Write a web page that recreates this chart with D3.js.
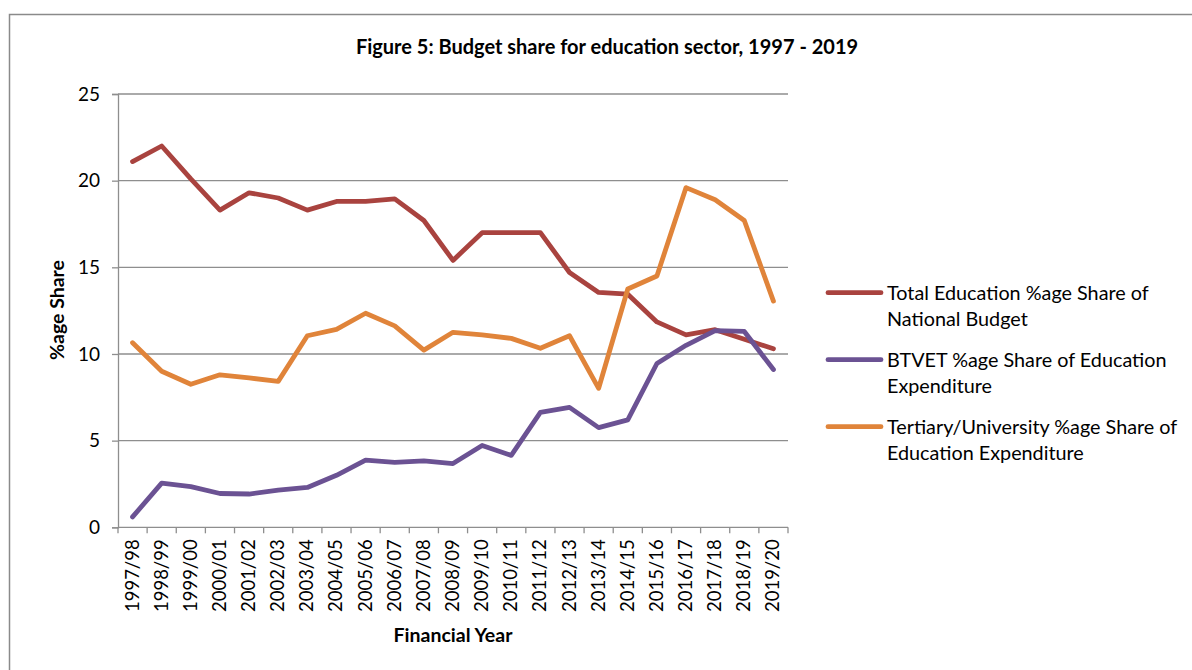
<!DOCTYPE html>
<html>
<head>
<meta charset="utf-8">
<script src="https://cdn.jsdelivr.net/npm/d3@7/dist/d3.min.js"></script>
<style>
  html, body { margin: 0; padding: 0; background: #fff; }
  svg { display: block; font-family: Lato, "Open Sans", sans-serif; }
</style>
</head>
<body>
<svg id="chart" width="1192" height="670"></svg>
<script>
// Financial years on the category axis
const years = ["1997/98","1998/99","1999/00","2000/01","2001/02","2002/03","2003/04","2004/05",
  "2005/06","2006/07","2007/08","2008/09","2009/10","2010/11","2011/12","2012/13","2013/14",
  "2014/15","2015/16","2016/17","2017/18","2018/19","2019/20"];

// Series values (% share)
const totalEducation = [21.1, 22.0, 20.1, 18.3, 19.3, 19.0, 18.3, 18.8, 18.8, 18.95, 17.7, 15.4,
  17.0, 17.0, 17.0, 14.7, 13.55, 13.45, 11.85, 11.1, 11.4, 10.85, 10.3];
const btvet = [0.6, 2.55, 2.35, 1.95, 1.92, 2.15, 2.3, 3.0, 3.88, 3.75, 3.83, 3.68,
  4.72, 4.15, 6.63, 6.92, 5.75, 6.2, 9.45, 10.5, 11.35, 11.3, 9.1];
const tertiary = [10.65, 9.0, 8.25, 8.8, 8.62, 8.42, 11.05, 11.42, 12.35, 11.62, 10.22, 11.25,
  11.1, 10.9, 10.33, 11.05, 8.02, 13.75, 14.5, 19.6, 18.9, 17.7, 13.05];

const seriesNames = [
  ["Total Education %age Share of", "National Budget"],
  ["BTVET %age Share of Education", "Expenditure"],
  ["Tertiary/University %age Share of", "Education Expenditure"]
];
const yTicks = [0, 5, 10, 15, 20, 25];

const title = "Figure 5: Budget share for education sector, 1997 - 2019";
const xTitle = "Financial Year";
const yTitle = "%age Share";

const series = [
  { name: seriesNames[0], values: totalEducation, color: "#A9433F" },
  { name: seriesNames[1], values: btvet, color: "#6B5293" },
  { name: seriesNames[2], values: tertiary, color: "#E0843A" }
];

const svg = d3.select("#chart");
const plot = { left: 118, right: 788, top: 94, bottom: 527.3 };
const gridColor = "#8e8e8e";

// outer frame of the chart area
svg.append("path")
  .attr("d", "M9.5,700 L9.5,14.5 L1200,14.5")
  .attr("fill", "none").attr("stroke", "#8a8a8a").attr("stroke-width", 1.5);

const x = d3.scaleBand().domain(years).range([plot.left, plot.right]);
const y = d3.scaleLinear().domain([0, 25]).range([plot.bottom, plot.top]);

// horizontal gridlines
svg.append("g")
  .selectAll("line").data(yTicks.filter(d => d > 0)).join("line")
  .attr("x1", plot.left).attr("x2", plot.right)
  .attr("y1", d => y(d)).attr("y2", d => y(d))
  .attr("stroke", gridColor).attr("stroke-width", 1.3);

// y axis
const yAxis = svg.append("g")
  .attr("transform", `translate(${plot.left},0)`)
  .call(d3.axisLeft(y).tickValues(yTicks).tickSize(6).tickPadding(12).tickFormat(d3.format("d")));
yAxis.select(".domain").attr("stroke", gridColor).attr("stroke-width", 1.3);
yAxis.selectAll(".tick line").attr("stroke", gridColor).attr("stroke-width", 1.3);
yAxis.selectAll(".tick text").attr("font-size", 19).attr("fill", "#000")
  .attr("font-family", "Lato, sans-serif");

// x axis with tick marks on band boundaries
const xAxisG = svg.append("g").attr("transform", `translate(0,${plot.bottom})`);
xAxisG.append("line")
  .attr("x1", plot.left).attr("x2", plot.right)
  .attr("stroke", gridColor).attr("stroke-width", 1.3);
const bounds = years.map(d => x(d)).concat([x(years[years.length - 1]) + x.bandwidth()]);
xAxisG.selectAll("line.tk").data(bounds).join("line").attr("class", "tk")
  .attr("x1", d => d).attr("x2", d => d).attr("y1", 0).attr("y2", 6)
  .attr("stroke", gridColor).attr("stroke-width", 1.3);
xAxisG.selectAll("text").data(years).join("text")
  .attr("transform", d => `translate(${x(d) + x.bandwidth() / 2 + 6},12) rotate(-90)`)
  .attr("text-anchor", "end")
  .attr("font-size", 18.5)
  .attr("fill", "#000")
  .text(d => d);

// series lines
const line = d3.line()
  .x((d, i) => x(years[i]) + x.bandwidth() / 2)
  .y(d => y(d));
svg.append("g").selectAll("path").data(series).join("path")
  .attr("d", d => line(d.values))
  .attr("fill", "none")
  .attr("stroke", d => d.color)
  .attr("stroke-width", 4.8)
  .attr("stroke-linejoin", "round")
  .attr("stroke-linecap", "round");

// titles
svg.append("text").attr("x", 607).attr("y", 54)
  .attr("text-anchor", "middle").attr("font-size", 20).attr("font-weight", "bold")
  .text(title);
svg.append("text").attr("x", 453).attr("y", 642)
  .attr("text-anchor", "middle").attr("font-size", 19.5).attr("font-weight", "bold")
  .text(xTitle);
svg.append("text").attr("transform", "translate(64,310) rotate(-90)")
  .attr("text-anchor", "middle").attr("font-size", 19.5).attr("font-weight", "bold")
  .text(yTitle);

// legend
const legend = svg.append("g");
const lg = legend.selectAll("g").data(series).join("g")
  .attr("transform", (d, i) => `translate(0,${292.7 + i * 67})`);
lg.append("line").attr("x1", 828).attr("x2", 881).attr("y1", 0).attr("y2", 0)
  .attr("stroke", d => d.color).attr("stroke-width", 4.8).attr("stroke-linecap", "round");
lg.append("text").attr("x", 887).attr("y", 7).attr("font-size", 19.8).attr("fill", "#000")
  .text(d => d.name[0]);
lg.append("text").attr("x", 887).attr("y", 33.7).attr("font-size", 19.8).attr("fill", "#000")
  .text(d => d.name[1]);
</script>
</body>
</html>
